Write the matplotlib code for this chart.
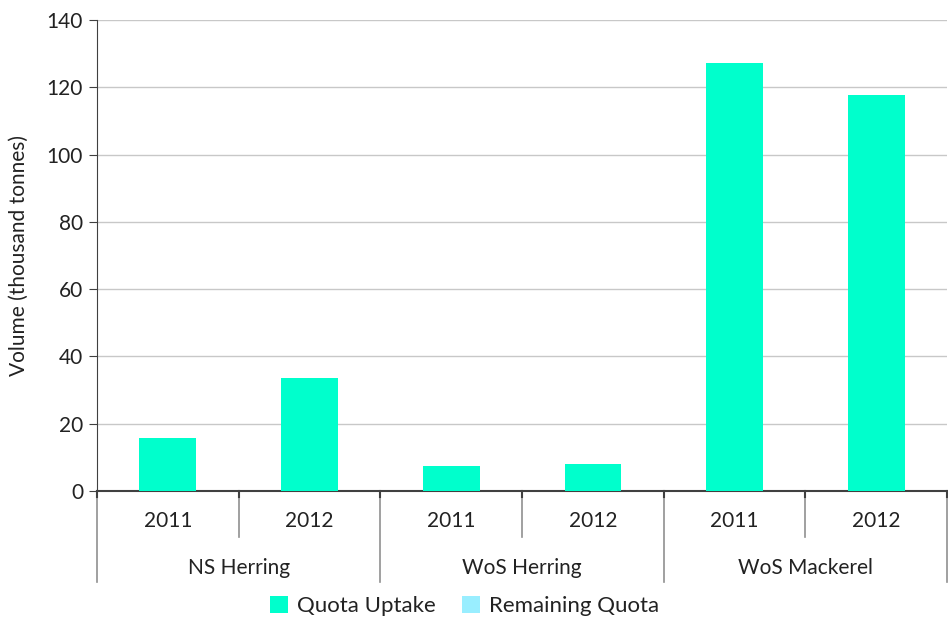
import matplotlib
matplotlib.use("Agg")
import matplotlib.pyplot as plt
import matplotlib.transforms as mtransforms
from matplotlib.patches import Patch

plt.rcParams['font.family'] = ['Lato', 'DejaVu Sans']

groups = ["NS Herring", "WoS Herring", "WoS Mackerel"]
years = ["2011", "2012"]
quota_uptake = [15.8, 33.6, 7.4, 8.0, 127.2, 117.7]
remaining_quota = [0, 0, 0, 0, 0, 0]
yticks = [0, 20, 40, 60, 80, 100, 120, 140]

c_uptake = "#00FFCC"
c_remain = "#99EEFF"
FS = 15

fig = plt.figure(figsize=(9.48, 6.21), dpi=100)
ax = fig.add_axes([0.1023, 0.2093, 0.8967, 0.7585])

n = len(groups) * len(years)
x = list(range(n))
ax.bar(x, quota_uptake, width=0.4, color=c_uptake, zorder=3)
ax.bar(x, remaining_quota, width=0.4, bottom=quota_uptake, color=c_remain, zorder=3)

ax.set_xlim(-0.5, n - 0.5)
ax.set_ylim(0, 140)
ax.set_yticks(yticks)
ax.set_yticklabels([str(t) for t in yticks], fontsize=FS, color="#222222")
ax.yaxis.grid(True, color="#c8c8c8", linewidth=1, zorder=0)
ax.set_xticks([])
for s in ["top", "right"]:
    ax.spines[s].set_visible(False)
ax.spines["left"].set_color("#404040")
ax.spines["bottom"].set_color("#404040")
ax.spines["bottom"].set_linewidth(1.5)
ax.tick_params(axis="y", length=6, color="#404040", pad=4)
ax.set_ylabel("Volume (thousand tonnes)", fontsize=FS, color="#222222", labelpad=13)

trans = mtransforms.blended_transform_factory(ax.transData, ax.transAxes)
for i in range(n):
    ax.text(i, -0.064, years[i % len(years)], transform=trans, ha="center", va="center",
            fontsize=FS, color="#222222")
for g, name in enumerate(groups):
    xc = g * len(years) + (len(years) - 1) / 2
    ax.text(xc, -0.163, name, transform=trans, ha="center", va="center",
            fontsize=FS, color="#222222")
for k in range(n + 1):
    xp = k - 0.5
    if k % len(years) == 0:
        ax.plot([xp, xp], [0, -0.193], transform=trans, color="#909090", lw=1.2, clip_on=False)
    else:
        ax.plot([xp, xp], [0, -0.098], transform=trans, color="#909090", lw=1.2, clip_on=False)
    ax.plot([xp, xp], [0, -0.013], transform=trans, color="#404040", lw=1.5, clip_on=False)

handles = [Patch(facecolor=c_uptake, label="Quota Uptake"),
           Patch(facecolor=c_remain, label="Remaining Quota")]
fig.legend(handles=handles, loc="center", bbox_to_anchor=(0.49, 0.024), ncol=2,
           frameon=False, fontsize=16, handlelength=0.8, handleheight=0.8,
           handletextpad=0.4, columnspacing=1.2, labelcolor="#222222")

fig.savefig("out.png", dpi=100)
